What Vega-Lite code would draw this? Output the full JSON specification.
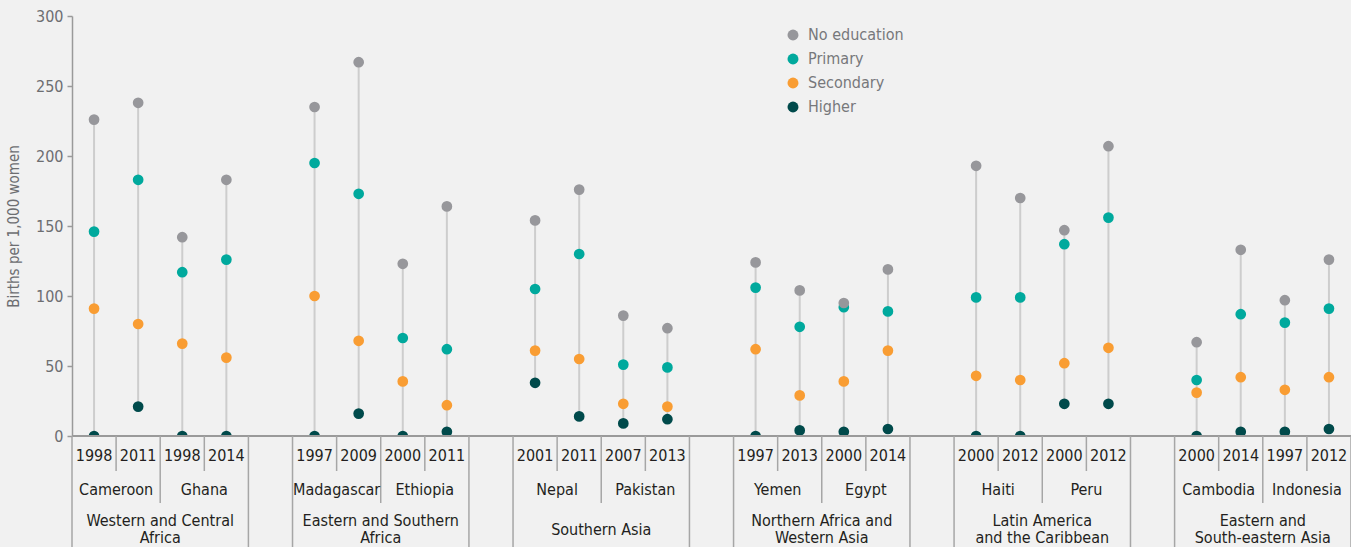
{
  "$schema": "https://vega.github.io/schema/vega-lite/v6.json",
  "background": "#f1f1f1",
  "padding": {"left": 6, "top": 8, "right": 0, "bottom": 0},
  "spacing": 0,
  "bounds": "flush",
  "config": {
    "font": "DejaVu Sans Condensed, Roboto Condensed, Roboto",
    "view": {"stroke": null},
    "concat": {"spacing": 0}
  },
  "datasets": {
    "surveys": [
      {"region": "Western and Central Africa", "country": "Cameroon", "year": "1998", "key": "Cameroon 1998", "No education": 226, "Primary": 146, "Secondary": 91, "Higher": 0},
      {"region": "Western and Central Africa", "country": "Cameroon", "year": "2011", "key": "Cameroon 2011", "No education": 238, "Primary": 183, "Secondary": 80, "Higher": 21},
      {"region": "Western and Central Africa", "country": "Ghana", "year": "1998", "key": "Ghana 1998", "No education": 142, "Primary": 117, "Secondary": 66, "Higher": 0},
      {"region": "Western and Central Africa", "country": "Ghana", "year": "2014", "key": "Ghana 2014", "No education": 183, "Primary": 126, "Secondary": 56, "Higher": 0},
      {"region": "Eastern and Southern Africa", "country": "Madagascar", "year": "1997", "key": "Madagascar 1997", "No education": 235, "Primary": 195, "Secondary": 100, "Higher": 0},
      {"region": "Eastern and Southern Africa", "country": "Madagascar", "year": "2009", "key": "Madagascar 2009", "No education": 267, "Primary": 173, "Secondary": 68, "Higher": 16},
      {"region": "Eastern and Southern Africa", "country": "Ethiopia", "year": "2000", "key": "Ethiopia 2000", "No education": 123, "Primary": 70, "Secondary": 39, "Higher": 0},
      {"region": "Eastern and Southern Africa", "country": "Ethiopia", "year": "2011", "key": "Ethiopia 2011", "No education": 164, "Primary": 62, "Secondary": 22, "Higher": 3},
      {"region": "Southern Asia", "country": "Nepal", "year": "2001", "key": "Nepal 2001", "No education": 154, "Primary": 105, "Secondary": 61, "Higher": 38},
      {"region": "Southern Asia", "country": "Nepal", "year": "2011", "key": "Nepal 2011", "No education": 176, "Primary": 130, "Secondary": 55, "Higher": 14},
      {"region": "Southern Asia", "country": "Pakistan", "year": "2007", "key": "Pakistan 2007", "No education": 86, "Primary": 51, "Secondary": 23, "Higher": 9},
      {"region": "Southern Asia", "country": "Pakistan", "year": "2013", "key": "Pakistan 2013", "No education": 77, "Primary": 49, "Secondary": 21, "Higher": 12},
      {"region": "Northern Africa and Western Asia", "country": "Yemen", "year": "1997", "key": "Yemen 1997", "No education": 124, "Primary": 106, "Secondary": 62, "Higher": 0},
      {"region": "Northern Africa and Western Asia", "country": "Yemen", "year": "2013", "key": "Yemen 2013", "No education": 104, "Primary": 78, "Secondary": 29, "Higher": 4},
      {"region": "Northern Africa and Western Asia", "country": "Egypt", "year": "2000", "key": "Egypt 2000", "No education": 95, "Primary": 92, "Secondary": 39, "Higher": 3},
      {"region": "Northern Africa and Western Asia", "country": "Egypt", "year": "2014", "key": "Egypt 2014", "No education": 119, "Primary": 89, "Secondary": 61, "Higher": 5},
      {"region": "Latin America and the Caribbean", "country": "Haiti", "year": "2000", "key": "Haiti 2000", "No education": 193, "Primary": 99, "Secondary": 43, "Higher": 0},
      {"region": "Latin America and the Caribbean", "country": "Haiti", "year": "2012", "key": "Haiti 2012", "No education": 170, "Primary": 99, "Secondary": 40, "Higher": 0},
      {"region": "Latin America and the Caribbean", "country": "Peru", "year": "2000", "key": "Peru 2000", "No education": 147, "Primary": 137, "Secondary": 52, "Higher": 23},
      {"region": "Latin America and the Caribbean", "country": "Peru", "year": "2012", "key": "Peru 2012", "No education": 207, "Primary": 156, "Secondary": 63, "Higher": 23},
      {"region": "Eastern and South-eastern Asia", "country": "Cambodia", "year": "2000", "key": "Cambodia 2000", "No education": 67, "Primary": 40, "Secondary": 31, "Higher": 0},
      {"region": "Eastern and South-eastern Asia", "country": "Cambodia", "year": "2014", "key": "Cambodia 2014", "No education": 133, "Primary": 87, "Secondary": 42, "Higher": 3},
      {"region": "Eastern and South-eastern Asia", "country": "Indonesia", "year": "1997", "key": "Indonesia 1997", "No education": 97, "Primary": 81, "Secondary": 33, "Higher": 3},
      {"region": "Eastern and South-eastern Asia", "country": "Indonesia", "year": "2012", "key": "Indonesia 2012", "No education": 126, "Primary": 91, "Secondary": 42, "Higher": 5}
    ],
    "countryLabels": [
      {"country": "Cameroon", "mid": "Cameroon 2011"},
      {"country": "Ghana", "mid": "Ghana 2014"},
      {"country": "Madagascar", "mid": "Madagascar 2009"},
      {"country": "Ethiopia", "mid": "Ethiopia 2011"},
      {"country": "Nepal", "mid": "Nepal 2011"},
      {"country": "Pakistan", "mid": "Pakistan 2013"},
      {"country": "Yemen", "mid": "Yemen 2013"},
      {"country": "Egypt", "mid": "Egypt 2014"},
      {"country": "Haiti", "mid": "Haiti 2012"},
      {"country": "Peru", "mid": "Peru 2012"},
      {"country": "Cambodia", "mid": "Cambodia 2014"},
      {"country": "Indonesia", "mid": "Indonesia 2012"}
    ],
    "regionLabels": [
      {"region": "Western and Central\nAfrica", "first": "Cameroon 1998", "mid": "Ghana 1998", "last": "Ghana 2014"},
      {"region": "Eastern and Southern\nAfrica", "first": "Madagascar 1997", "mid": "Ethiopia 2000", "last": "Ethiopia 2011"},
      {"region": "Southern Asia", "first": "Nepal 2001", "mid": "Pakistan 2007", "last": "Pakistan 2013"},
      {"region": "Northern Africa and\nWestern Asia", "first": "Yemen 1997", "mid": "Egypt 2000", "last": "Egypt 2014"},
      {"region": "Latin America\nand the Caribbean", "first": "Haiti 2000", "mid": "Peru 2000", "last": "Peru 2012"},
      {"region": "Eastern and\nSouth-eastern Asia", "first": "Cambodia 2000", "mid": "Indonesia 1997", "last": "Indonesia 2012"}
    ]
  },
  "vconcat": [
    {
      "width": 1279,
      "height": 420,
      "data": {"name": "surveys"},
      "transform": [{"fold": ["Higher", "Secondary", "Primary", "No education"], "as": ["level", "rate"]}],
      "layer": [
        {
          "transform": [{"aggregate": [{"op": "min", "field": "rate", "as": "lo"}, {"op": "max", "field": "rate", "as": "hi"}], "groupby": ["key"]}],
          "mark": {"type": "rule", "color": "#cdcdcd", "strokeWidth": 2},
          "encoding": {
            "x": {"field": "key", "type": "nominal", "axis": null,
              "scale": {"domain": ["Cameroon 1998", "Cameroon 2011", "Ghana 1998", "Ghana 2014", "gap1", "Madagascar 1997", "Madagascar 2009", "Ethiopia 2000", "Ethiopia 2011", "gap2", "Nepal 2001", "Nepal 2011", "Pakistan 2007", "Pakistan 2013", "gap3", "Yemen 1997", "Yemen 2013", "Egypt 2000", "Egypt 2014", "gap4", "Haiti 2000", "Haiti 2012", "Peru 2000", "Peru 2012", "gap5", "Cambodia 2000", "Cambodia 2014", "Indonesia 1997", "Indonesia 2012"], "paddingInner": 0, "paddingOuter": 0}},
            "y": {"field": "lo", "type": "quantitative",
              "scale": {"domain": [0, 300], "nice": false},
              "axis": {"values": [0, 50, 100, 150, 200, 250, 300], "title": "Births per 1,000 women", "titleFontSize": 15, "titleFontWeight": "normal", "titleColor": "#6d6e71", "titlePadding": 14, "labelFontSize": 16, "labelColor": "#6d6e71", "labelPadding": 4, "tickSize": 5, "tickColor": "#9a9a9a", "tickWidth": 1.5, "domainColor": "#9a9a9a", "domainWidth": 1.5, "grid": false}},
            "y2": {"field": "hi"}
          }
        },
        {
          "mark": {"type": "circle", "size": 115, "opacity": 1, "clip": true},
          "encoding": {
            "x": {"field": "key", "type": "nominal"},
            "y": {"field": "rate", "type": "quantitative"},
            "color": {"field": "level", "type": "nominal",
              "scale": {"domain": ["No education", "Primary", "Secondary", "Higher"], "range": ["#97979b", "#00a99d", "#f99d33", "#004a4b"]},
              "legend": {"title": null, "orient": "none", "legendX": 713, "legendY": 11, "symbolType": "circle", "symbolSize": 120, "symbolStrokeWidth": 0, "labelFontSize": 16, "labelColor": "#77787b", "rowPadding": 8, "labelOffset": 7, "padding": 0}}
          }
        },
        {
          "mark": {"type": "rule", "color": "#9a9a9a", "strokeWidth": 1.5},
          "encoding": {"y": {"datum": 0}}
        }
      ]
    },
    {
      "width": 1279,
      "height": 111,
      "layer": [
        {
          "data": {"name": "countryLabels"},
          "mark": {"type": "rule", "color": "#a6a6a6", "strokeWidth": 1.5},
          "encoding": {
            "x": {"field": "mid", "type": "nominal", "bandPosition": 0, "axis": null,
              "scale": {"domain": ["Cameroon 1998", "Cameroon 2011", "Ghana 1998", "Ghana 2014", "gap1", "Madagascar 1997", "Madagascar 2009", "Ethiopia 2000", "Ethiopia 2011", "gap2", "Nepal 2001", "Nepal 2011", "Pakistan 2007", "Pakistan 2013", "gap3", "Yemen 1997", "Yemen 2013", "Egypt 2000", "Egypt 2014", "gap4", "Haiti 2000", "Haiti 2012", "Peru 2000", "Peru 2012", "gap5", "Cambodia 2000", "Cambodia 2014", "Indonesia 1997", "Indonesia 2012"], "paddingInner": 0, "paddingOuter": 0}},
            "y": {"datum": 0, "type": "quantitative", "scale": {"domain": [0, 111], "nice": false, "zero": false, "reverse": true}, "axis": null},
            "y2": {"datum": 35}
          }
        },
        {
          "data": {"name": "regionLabels"},
          "mark": {"type": "rule", "color": "#a6a6a6", "strokeWidth": 1.5},
          "encoding": {
            "x": {"field": "mid", "type": "nominal", "bandPosition": 0},
            "y": {"datum": 0, "type": "quantitative"},
            "y2": {"datum": 67}
          }
        },
        {
          "data": {"name": "regionLabels"},
          "mark": {"type": "rule", "color": "#a6a6a6", "strokeWidth": 1.5},
          "encoding": {
            "x": {"field": "first", "type": "nominal", "bandPosition": 0},
            "y": {"datum": 0, "type": "quantitative"},
            "y2": {"datum": 111}
          }
        },
        {
          "data": {"name": "regionLabels"},
          "mark": {"type": "rule", "color": "#a6a6a6", "strokeWidth": 1.5},
          "encoding": {
            "x": {"field": "last", "type": "nominal", "bandPosition": 1},
            "y": {"datum": 0, "type": "quantitative"},
            "y2": {"datum": 111}
          }
        },
        {
          "data": {"name": "surveys"},
          "mark": {"type": "text", "fontSize": 16, "color": "#231f20", "baseline": "middle", "align": "center"},
          "encoding": {
            "x": {"field": "key", "type": "nominal"},
            "y": {"datum": 20, "type": "quantitative"},
            "text": {"field": "year"}
          }
        },
        {
          "data": {"name": "countryLabels"},
          "mark": {"type": "text", "fontSize": 16, "color": "#231f20", "baseline": "middle", "align": "center"},
          "encoding": {
            "x": {"field": "mid", "type": "nominal", "bandPosition": 0},
            "y": {"datum": 54, "type": "quantitative"},
            "text": {"field": "country"}
          }
        },
        {
          "data": {"name": "regionLabels"},
          "transform": [{"filter": "indexof(datum.region, '\\n') >= 0"}],
          "mark": {"type": "text", "fontSize": 16, "color": "#231f20", "baseline": "middle", "align": "center", "lineBreak": "\n", "lineHeight": 17},
          "encoding": {
            "x": {"field": "mid", "type": "nominal", "bandPosition": 0},
            "y": {"datum": 85, "type": "quantitative"},
            "text": {"field": "region"}
          }
        },
        {
          "data": {"name": "regionLabels"},
          "transform": [{"filter": "indexof(datum.region, '\\n') < 0"}],
          "mark": {"type": "text", "fontSize": 16, "color": "#231f20", "baseline": "middle", "align": "center"},
          "encoding": {
            "x": {"field": "mid", "type": "nominal", "bandPosition": 0},
            "y": {"datum": 94, "type": "quantitative"},
            "text": {"field": "region"}
          }
        }
      ]
    }
  ]
}
